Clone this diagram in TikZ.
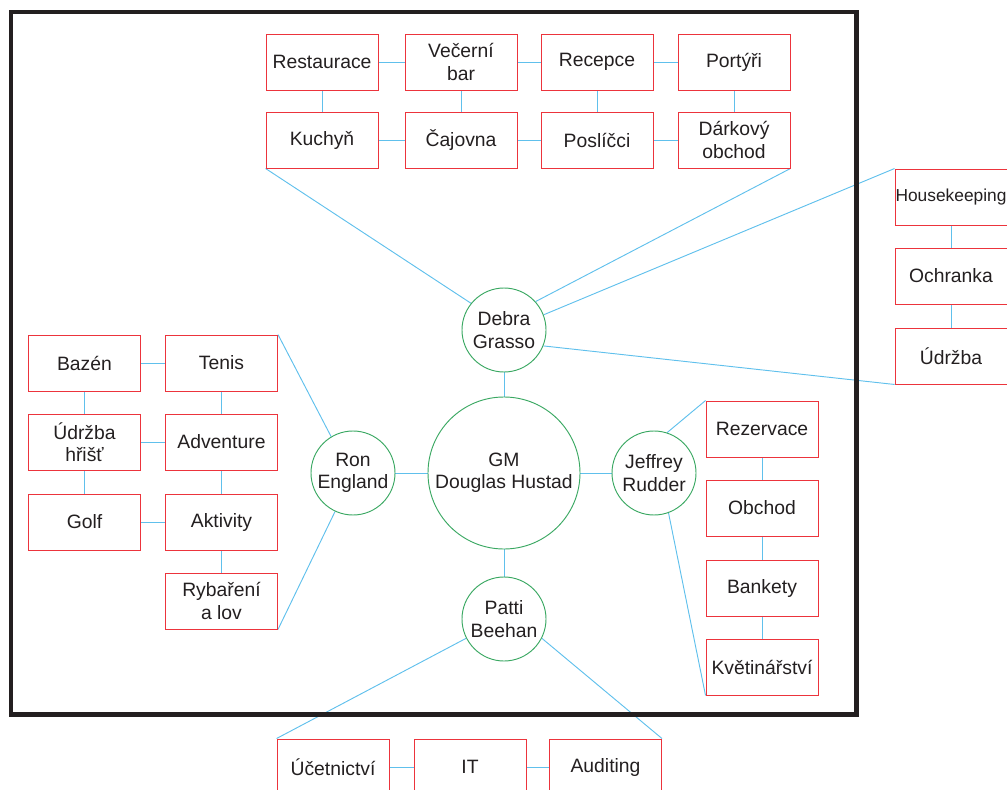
\documentclass[tikz,border=0pt]{standalone}
\usepackage{fontspec}
\setmainfont{Liberation Sans}
\usepackage{tikz}
\usetikzlibrary{backgrounds}
\definecolor{boxred}{RGB}{236,52,60}
\definecolor{ringgreen}{RGB}{58,168,98}
\definecolor{linkblue}{RGB}{96,192,236}
\definecolor{inkgray}{RGB}{35,31,32}
\newcommand{\boxw}{3.36cm}
\newcommand{\boxh}{1.68cm}
\newcommand{\strokew}{0.8pt}
\newcommand{\labelfont}{\fontsize{16.5}{19}\selectfont}

\tikzset{
  dept/.style={draw=boxred, line width=\strokew, minimum width=\boxw, minimum height=\boxh,
    inner sep=0pt, align=center, text=inkgray, font=\labelfont},
  head/.style={circle, draw=ringgreen, line width=\strokew, minimum size=2.52cm,
    inner sep=0pt, align=center, text=inkgray, font=\labelfont},
  link/.style={draw=linkblue, line width=\strokew}
}

\begin{document}
\begin{tikzpicture}[x=0.03cm, y=-0.03cm]
\useasboundingbox (0,0) rectangle (1007,790);
% heads
\node[head, minimum size=4.56cm] (gm) at (504,473) {GM\\Douglas Hustad};
\node[head] (deb) at (504,330) {Debra\\Grasso};
\node[head] (ron) at (353,473) {Ron\\England};
\node[head] (jef) at (654,473) {Jeffrey\\Rudder};
\node[head] (pat) at (504,619) {Patti\\Beehan};
% top block
\node[dept] (rest) at (322,62) {Restaurace};
\node[dept] (bar) at (461,62) {Večerní\\bar};
\node[dept] (recp) at (597,62) {Recepce};
\node[dept] (port) at (734,62) {Portýři};
\node[dept] (kuch) at (322,140) {Kuchyň};
\node[dept] (cajo) at (461,140) {Čajovna};
\node[dept] (posl) at (597,140) {Poslíčci};
\node[dept] (dark) at (734,140) {Dárkový\\obchod};
% right column
\node[dept, font=\fontsize{14.8}{17}\selectfont] (hk) at (951,197) {Housekeeping};
\node[dept] (ochr) at (951,276) {Ochranka};
\node[dept] (udrz) at (951,356) {Údržba};
% left block
\node[dept] (bazen) at (84.5,363) {Bazén};
\node[dept] (tenis) at (221.5,363) {Tenis};
\node[dept] (hrist) at (84.5,442) {Údržba\\hřišť};
\node[dept] (adv) at (221.5,442) {Adventure};
\node[dept] (golf) at (84.5,522) {Golf};
\node[dept] (akt) at (221.5,522) {Aktivity};
\node[dept] (ryb) at (221.5,601) {Rybaření\\a lov};
% sales column
\node[dept] (rez) at (762,429) {Rezervace};
\node[dept] (obch) at (762,508) {Obchod};
\node[dept] (bank) at (762,588) {Bankety};
\node[dept] (kvet) at (762,667) {Květinářství};
% bottom row
\node[dept] (ucet) at (333,767) {Účetnictví};
\node[dept] (it) at (470,767) {IT};
\node[dept] (aud) at (605.5,767) {Auditing};
%links
\begin{scope}[on background layer]
\draw[link] (gm) -- (deb);
\draw[link] (gm) -- (ron);
\draw[link] (gm) -- (jef);
\draw[link] (gm) -- (pat);
\draw[link] (rest) -- (bar);
\draw[link] (bar) -- (recp);
\draw[link] (recp) -- (port);
\draw[link] (kuch) -- (cajo);
\draw[link] (cajo) -- (posl);
\draw[link] (posl) -- (dark);
\draw[link] (rest) -- (kuch);
\draw[link] (bar) -- (cajo);
\draw[link] (recp) -- (posl);
\draw[link] (port) -- (dark);
\draw[link] (deb.141) -- (kuch.south west);
\draw[link] (deb.42) -- (dark.south east);
\draw[link] (deb.21) -- (hk.north west);
\draw[link] (deb.-22) -- (udrz.south west);
\draw[link] (hk) -- (ochr);
\draw[link] (ochr) -- (udrz);
\draw[link] (bazen) -- (tenis);
\draw[link] (hrist) -- (adv);
\draw[link] (golf) -- (akt);
\draw[link] (bazen) -- (hrist);
\draw[link] (hrist) -- (golf);
\draw[link] (tenis) -- (adv);
\draw[link] (adv) -- (akt);
\draw[link] (akt) -- (ryb);
\draw[link] (ron.121) -- (tenis.north east);
\draw[link] (ron.245) -- (ryb.south east);
\draw[link] (rez) -- (obch);
\draw[link] (obch) -- (bank);
\draw[link] (bank) -- (kvet);
\draw[link] (jef.72) -- (rez.north west);
\draw[link] (jef.-70) -- (kvet.south west);
\draw[link] (ucet) -- (it);
\draw[link] (it) -- (aud);
\draw[link] (pat.207) -- (ucet.north west);
\draw[link] (pat.333) -- (aud.north east);
\end{scope}
% frame
\draw[inkgray, line width=3.8pt] (11,12) rectangle (856.5,714.5);
\end{tikzpicture}
\end{document}
